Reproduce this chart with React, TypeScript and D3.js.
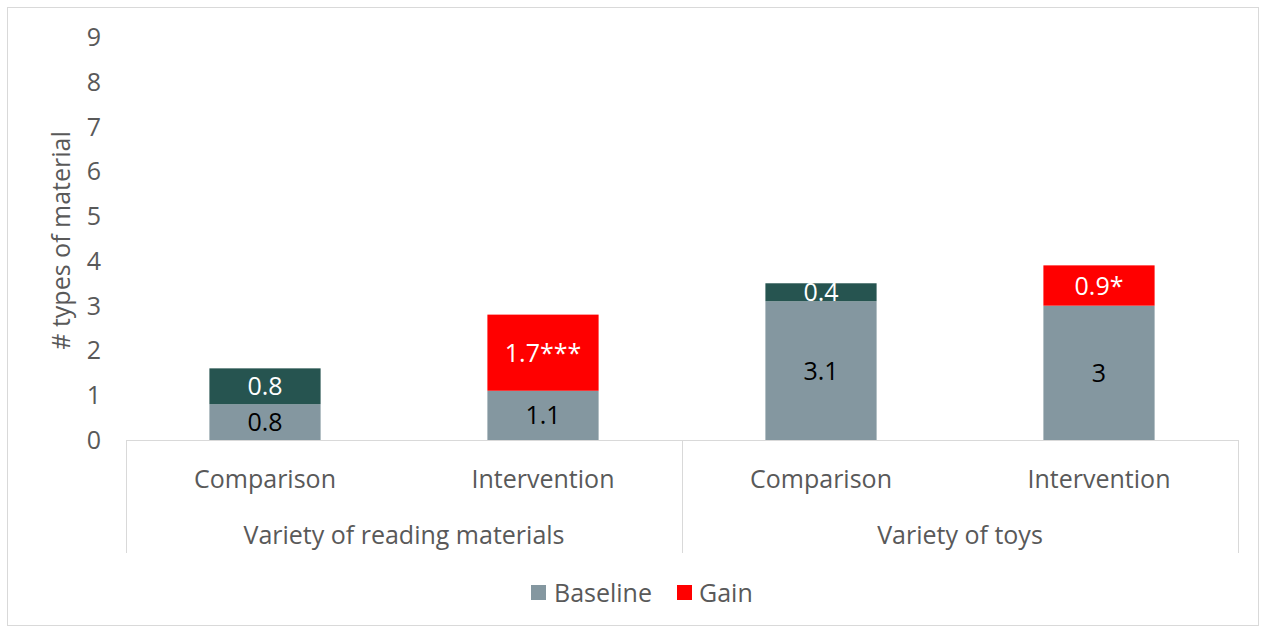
import React from 'react';
import * as d3 from 'd3';

const groups = ['Variety of reading materials', 'Variety of toys'];
const arms = ['Comparison', 'Intervention'];
const baseline = [0.8, 1.1, 3.1, 3.0];
const gain = [0.8, 1.7, 0.4, 0.9];
const gainLabels = ['0.8', '1.7***', '0.4', '0.9*'];
const gainSignificant = [false, true, false, true];
const yTicks = [0, 1, 2, 3, 4, 5, 6, 7, 8, 9];

const W = 1266;
const H = 630;
const margin = { top: 37, right: 28, bottom: 190, left: 126 };
const FONT = '"Open Sans", "Noto Sans", sans-serif';
const FS = 25;
const BASE_COLOR = '#8497a0';
const GAIN_COLOR = '#ff0000';
const NS_COLOR = '#265450';
const TEXT = '#595959';
const GRID = '#d9d9d9';

export default function App() {
  const plotBottom = H - margin.bottom;
  const leaves = groups.flatMap((g) => arms.map((a) => `${g}|${a}`));

  const x = d3.scaleBand().domain(leaves).range([margin.left, W - margin.right]).paddingInner(0.6).paddingOuter(0.3);
  const xOuter = d3.scaleBand().domain(groups).range([margin.left, W - margin.right]);
  const y = d3.scaleLinear().domain([0, 9]).range([plotBottom, margin.top]);

  const stacked = leaves.map((key, i) => ({
    key,
    base: baseline[i],
    gain: gain[i],
    label: gainLabels[i],
    sig: gainSignificant[i],
  }));

  const axisBottom = plotBottom + 113;

  return (
    <svg width={W} height={H} style={{ position: 'absolute', left: 0, top: 0, background: '#fff' }} fontFamily={FONT}>
      <rect x={7.5} y={7.5} width={1251} height={618} fill="#fff" stroke={GRID} />

      {/* y axis labels */}
      {yTicks.map((t) => (
        <text key={t} x={101} y={y(t) - 1} textAnchor="end" dominantBaseline="central" fontSize={FS} fill={TEXT}>
          {t}
        </text>
      ))}
      <text
        transform={`translate(60,${(margin.top + plotBottom) / 2 + 2}) rotate(-90)`}
        textAnchor="middle"
        dominantBaseline="central"
        fontSize={FS}
        fill={TEXT}
      >
        # types of material
      </text>

      {/* bars */}
      {stacked.map((d) => {
        const bx = x(d.key)!;
        const bw = x.bandwidth();
        const y0 = y(0);
        const y1 = y(d.base);
        const y2 = y(d.base + d.gain);
        return (
          <g key={d.key}>
            <rect x={bx} y={y1} width={bw} height={y0 - y1} fill={BASE_COLOR} />
            <rect x={bx} y={y2} width={bw} height={y1 - y2} fill={d.sig ? GAIN_COLOR : NS_COLOR} />
            <text x={bx + bw / 2} y={(y0 + y1) / 2 - 1} textAnchor="middle" dominantBaseline="central" fontSize={FS} fill="#000">
              {d3.format('~g')(d.base)}
            </text>
            <text x={bx + bw / 2} y={(y1 + y2) / 2 - 1} textAnchor="middle" dominantBaseline="central" fontSize={FS} fill="#fff">
              {d.label}
            </text>
          </g>
        );
      })}

      {/* category axis */}
      <line x1={margin.left} x2={W - margin.right} y1={plotBottom + 0.5} y2={plotBottom + 0.5} stroke={GRID} />
      {[margin.left, xOuter(groups[1])!, W - margin.right].map((lx, i) => (
        <line key={i} x1={lx + 0.5} x2={lx + 0.5} y1={plotBottom} y2={axisBottom} stroke={GRID} />
      ))}
      {stacked.map((d) => {
        const arm = d.key.split('|')[1];
        return (
          <text key={`lab-${d.key}`} x={x(d.key)! + x.bandwidth() / 2} y={478} textAnchor="middle" dominantBaseline="central" fontSize={FS} fill={TEXT}>
            {arm}
          </text>
        );
      })}
      {groups.map((g) => (
        <text key={g} x={xOuter(g)! + xOuter.bandwidth() / 2} y={534} textAnchor="middle" dominantBaseline="central" fontSize={FS} fill={TEXT}>
          {g}
        </text>
      ))}

      {/* legend */}
      <g>
        <rect x={531} y={585} width={15} height={15} fill={BASE_COLOR} />
        <text x={554} y={592} dominantBaseline="central" fontSize={FS} fill={TEXT}>Baseline</text>
        <rect x={677} y={585} width={15} height={15} fill={GAIN_COLOR} />
        <text x={699} y={592} dominantBaseline="central" fontSize={FS} fill={TEXT}>Gain</text>
      </g>
    </svg>
  );
}
